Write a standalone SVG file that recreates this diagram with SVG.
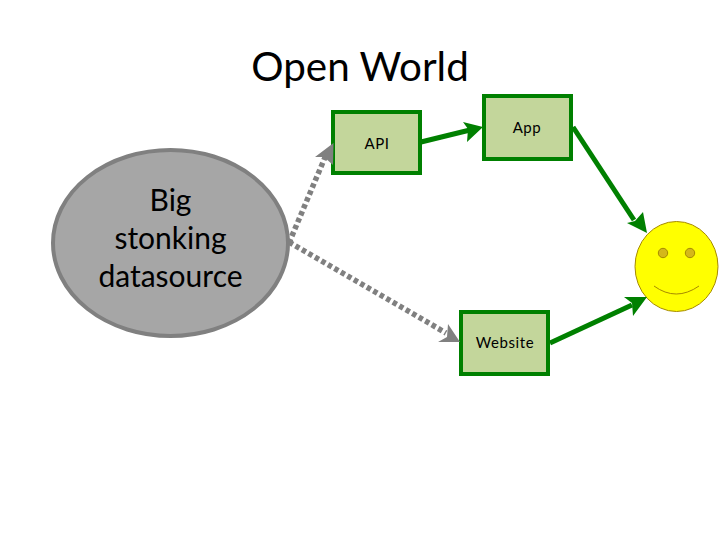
<svg xmlns="http://www.w3.org/2000/svg" width="720" height="540" viewBox="0 0 720 540">
<style>
text{font-family:"Lato","Open Sans",sans-serif;fill:#000;text-anchor:middle}
.box{fill:#c3d69b;stroke:#008000;stroke-width:4}
.lbl{font-size:15px;letter-spacing:.6px}
.big{font-size:30px}
.g{fill:none;stroke:#008000;stroke-width:5}
.d{fill:none;stroke:#808080;stroke-width:5.500;stroke-dasharray:4.500 3}
.gh{fill:#008000}
.dh{fill:#808080}
</style>
<rect width="720" height="540" fill="#fff"/>
<text id="title" x="360" y="81" style="font-size:40.400px">Open World</text>
<g id="datasource">
<ellipse cx="170.500" cy="243" rx="117.500" ry="93" fill="#a6a6a6" stroke="#808080" stroke-width="4"/>
<text class="big" x="170.500" y="211">Big</text>
<text class="big" x="170.500" y="249">stonking</text>
<text class="big" x="170.500" y="287">datasource</text>
</g>
<g id="api"><rect class="box" x="333" y="112" width="87" height="61"/><text class="lbl" x="377" y="149">API</text></g>
<g id="app"><rect class="box" x="484" y="96" width="87" height="63"/><text class="lbl" x="527" y="133">App</text></g>
<g id="website"><rect class="box" x="461" y="312" width="87" height="62"/><text class="lbl" x="505" y="348">Website</text></g>
<g id="smiley">
<ellipse cx="676.500" cy="266.500" rx="41.500" ry="45" fill="#ffff00" stroke="#a68a00" stroke-width="1"/>
<circle cx="663" cy="253" r="4.700" fill="#d4b81a" stroke="#a68a00"/>
<circle cx="690" cy="253" r="4.700" fill="#d4b81a" stroke="#a68a00"/>
<path d="M654 286Q676 302 699 286" fill="none" stroke="#a68a00" stroke-width="1"/>
</g>
<g id="connectors">
<path class="d" d="M289 243L326 155"/>
<path class="dh" d="M333.500 143L315 157L324 157L333 165Z"/>
<path class="d" d="M289 242L446 333"/>
<path class="dh" d="M460 342L438 342L447 337L448 324Z"/>
<path class="g" d="M421 142L470 130"/>
<path class="gh" d="M483 127L463 122L468 129L467 142Z"/>
<path class="g" d="M573 127L634 220"/>
<path class="gh" d="M647 233L627 223L635 221L643 212Z"/>
<path class="g" d="M550 343L632 305"/>
<path class="gh" d="M647 297L624 297L632 303L633 316Z"/>
</g>
</svg>
